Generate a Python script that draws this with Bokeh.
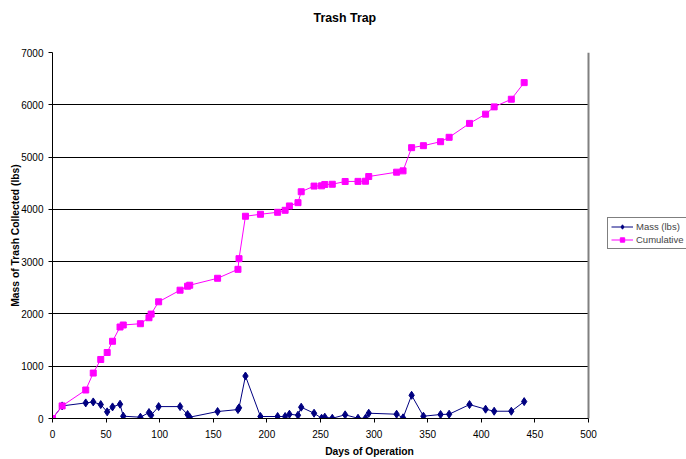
from bokeh.plotting import figure
from bokeh.models import Range1d, FixedTicker, Legend, LegendItem, Title
from bokeh.embed import file_html
from bokeh.resources import INLINE

# Data
days = [0, 9, 31, 38, 45, 51, 56, 63, 66, 82,
        90, 92, 99, 119, 126, 128, 154, 173, 174, 180,
        194, 210, 217, 221, 229, 232, 244, 251, 254, 261,
        273, 285, 292, 295, 321, 327, 335, 346, 362, 370,
        389, 404, 412, 428, 440]
mass = [0, 241, 298, 317, 266, 127, 222, 273, 44, 25,
        114, 63, 228, 228, 76, 25, 133, 171, 204, 812,
        38, 38, 38, 82, 63, 216, 101, 5, 25, 5,
        70, 5, 5, 101, 82, 13, 444, 44, 76, 82,
        266, 178, 139, 139, 323]
cumulative = [0, 241, 545, 869, 1129, 1262, 1477, 1750, 1788, 1813,
              1927, 1997, 2232, 2454, 2530, 2549, 2682, 2853, 3057, 3868,
              3906, 3944, 3982, 4065, 4128, 4337, 4445, 4450, 4476, 4480,
              4533, 4535, 4538, 4628, 4711, 4736, 5180, 5218, 5294, 5378,
              5644, 5821, 5960, 6106, 6424]
x_ticks = [0, 50, 100, 150, 200, 250, 300, 350, 400, 450, 500]
y_ticks = [0, 1000, 2000, 3000, 4000, 5000, 6000, 7000]
series_names = ["Mass (lbs)", "Cumulative"]
title_text = "Trash Trap"

X_MIN, X_MAX = 0, 500
Y_MIN, Y_MAX = 0, 7000

FONT = "Liberation Sans"
NAVY = "#000080"
MAGENTA = "#FF00FF"

# plot area 536 px wide for 0..500; the frame continues to the right edge
# (98 px more) so that the legend can sit there
PLOT_W = 536
EXTRA_W = 98
x_end = X_MAX * (PLOT_W + EXTRA_W) / PLOT_W

p = figure(width=686, height=459, output_backend="svg", toolbar_location=None,
           x_range=Range1d(X_MIN, x_end), y_range=Range1d(Y_MIN, Y_MAX),
           min_border_left=52, min_border_right=0, min_border_top=52, min_border_bottom=39,
           background_fill_color="white", border_fill_color="white")
p.title = None

# spacer (closest to the frame) then the real title above it
p.add_layout(Title(text=" ", text_font=FONT, text_font_size="10px", standoff=10), "above")
p.add_layout(Title(text=title_text, align="left", offset=261, standoff=10,
                   text_font=FONT, text_font_size="12.4px", text_font_style="bold",
                   text_color="black"), "above")

p.outline_line_color = None

for ax, ticks in ((p.xaxis, x_ticks), (p.yaxis, y_ticks)):
    ax.ticker = FixedTicker(ticks=ticks)
    ax.major_label_text_font = FONT
    ax.major_label_text_font_size = "10px"
    ax.major_label_text_color = "black"
    ax.axis_label_text_font = FONT
    ax.axis_label_text_font_size = "10.3px"
    ax.axis_label_text_font_style = "bold"
    ax.axis_label_text_color = "black"
    ax.axis_line_color = "black"
    ax.major_tick_line_color = "black"
    ax.major_tick_in = 0
    ax.major_tick_out = 4
    ax.minor_tick_in = 0
    ax.minor_tick_out = 0

p.xaxis.bounds = (X_MIN, X_MAX)
p.xaxis.axis_label = "Days of Operation"
p.xaxis.major_label_standoff = 7
p.xaxis.axis_label_standoff = 5
p.yaxis.axis_label = "Mass of Trash Collected (lbs)"
p.yaxis.major_label_standoff = 5
p.yaxis.axis_label_standoff = -3

# horizontal grid only across the plot area
p.ygrid.ticker = FixedTicker(ticks=y_ticks)
p.ygrid.grid_line_color = "black"
p.ygrid.grid_line_width = 1
p.ygrid.cross_bounds = (X_MIN, X_MAX)
p.xgrid.grid_line_color = None

# grey right border of the plot area
p.segment(x0=[X_MAX], y0=[Y_MIN], x1=[X_MAX], y1=[Y_MAX], line_color="#808080", line_width=2)

l1 = p.line(days, mass, line_color=NAVY, line_width=1)
s1 = p.scatter(days, mass, marker="diamond", size=8, fill_color=NAVY, line_color=NAVY)
l2 = p.line(days, cumulative, line_color=MAGENTA, line_width=1)
s2 = p.scatter(days, cumulative, marker="square", size=6, fill_color=MAGENTA, line_color=MAGENTA)

legend = Legend(items=[LegendItem(label=series_names[0], renderers=[l1, s1]),
                       LegendItem(label=series_names[1], renderers=[l2, s2])],
                location=(555, 169), orientation="vertical",
                border_line_color="black", border_line_width=1,
                background_fill_color="white", background_fill_alpha=1,
                padding=3, spacing=2, margin=0,
                label_text_font=FONT, label_text_font_size="9.5px",
                label_height=11, glyph_height=11, glyph_width=22, label_standoff=3)
p.add_layout(legend)

open("out.html", "w").write(file_html(p, INLINE))
